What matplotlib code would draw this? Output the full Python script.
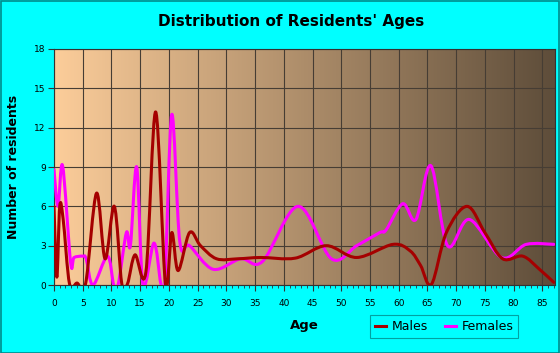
import matplotlib
matplotlib.use("Agg")
import matplotlib.pyplot as plt
import numpy as np
from matplotlib.path import Path
from matplotlib.patches import PathPatch, Rectangle
from matplotlib.lines import Line2D
from matplotlib.ticker import MultipleLocator

plt.rcParams['font.family'] = ['DejaVu Sans']

# values (age, number of residents)
male_ages = [0, 0.5, 1.0, 1.6, 2.7, 4.0, 5.5, 7.4, 8.9, 10.5, 11.8, 12.8, 14.1, 16.0,
             17.7, 19.4, 20.5, 21.6, 23.6, 25.5, 28.3, 32, 36, 42, 47.4, 52.7, 59,
             62, 63.8, 65.7, 68.3, 71.9, 75, 78.1, 81.6, 84.5, 87]
male_counts = [6.0, 0.6, 6.0, 5.0, 0.1, 0.15, 0.1, 7.0, 2.0, 6.0, 0.1, 0.1, 2.3, 1.0,
               13.2, 0.1, 4.0, 1.1, 4.0, 3.0, 2.0, 2.0, 2.1, 2.05, 3.0, 2.1, 3.1,
               2.6, 1.5, 0.05, 4.0, 6.0, 4.0, 2.0, 2.2, 1.2, 0.2]

female_ages = [0, 0.7, 1.5, 2.9, 3.5, 5.0, 5.6, 6.8, 9.3, 10.4, 11.2, 12.6, 13.3, 14.4,
               15.5, 17.4, 18.6, 19.3, 20.5, 21.9, 23.6, 27.7, 32.5, 36.3, 42.5, 48.3,
               52.7, 56.7, 57.8, 60.7, 63.0, 65.6, 68.5, 72.3, 77.9, 82.2, 87]
female_counts = [8.8, 6.0, 9.1, 1.7, 2.1, 2.2, 2.0, 0.0, 2.2, 0.0, 0.1, 4.0, 3.0, 9.0,
                 0.0, 3.2, 0.1, 0.1, 13.0, 3.3, 3.0, 1.2, 2.0, 1.8, 6.0, 2.0,
                 3.0, 4.0, 4.2, 6.2, 5.0, 9.1, 3.0, 5.0, 2.1, 3.1, 3.1]

x_ticks = list(range(0, 90, 5))
y_ticks = [0, 3, 6, 9, 12, 15, 18]


def smooth_path(xs, ys):
    """Catmull-Rom through the points, drawn as cubic Bezier segments."""
    pts = np.column_stack([xs, ys]).astype(float)
    verts = [pts[0]]
    codes = [Path.MOVETO]
    n = len(pts)
    for i in range(n - 1):
        p0 = pts[i - 1] if i > 0 else pts[i]
        p1 = pts[i]
        p2 = pts[i + 1]
        p3 = pts[i + 2] if i + 2 < n else pts[i + 1]
        c1 = p1 + (p2 - p0) / 6.0
        c2 = p2 - (p3 - p1) / 6.0
        verts += [c1, c2, p2]
        codes += [Path.CURVE4] * 3
    return Path(verts, codes)


fig = plt.figure(figsize=(5.6, 3.53), dpi=100, facecolor='#00FFFF')
fig.patches.append(Rectangle((0.001, 0.001), 0.997, 0.996, transform=fig.transFigure,
                             fill=False, edgecolor='#008B8B', linewidth=1.2))

ax = fig.add_axes([0.0964, 0.1926, 0.8946, 0.6686])
ax.set_xlim(0, 87.2)
ax.set_ylim(0, 18)

# background gradient
left = np.array([252, 205, 154]) / 255
right = np.array([94, 77, 58]) / 255
t = np.linspace(0, 1, 256)
grad = (left[None, :] * (1 - t[:, None]) + right[None, :] * t[:, None])[None, :, :]
ax.imshow(grad, extent=[0, 87.2, 0, 18], aspect='auto', zorder=0)

ax.set_xticks(x_ticks)
ax.set_yticks(y_ticks)
ax.xaxis.set_minor_locator(MultipleLocator(1))
ax.grid(True, which='major', color='#463d34', linewidth=0.8, zorder=1)

for xs, ys, col in [(female_ages, female_counts, '#FF00FF'),
                    (male_ages, male_counts, '#A50000')]:
    patch = PathPatch(smooth_path(xs, ys), facecolor='none', edgecolor=col,
                      linewidth=2.2, zorder=3, capstyle='round', joinstyle='round')
    patch.set_clip_path(ax.patch)
    ax.add_patch(patch)

for s in ax.spines.values():
    s.set_color('#333333')
    s.set_linewidth(0.8)
ax.tick_params(axis='both', which='major', labelsize=6.5, length=4, color='#333333',
               direction='out', pad=2)
ax.tick_params(axis='x', which='minor', length=2.5, color='#333333')
ax.tick_params(axis='x', pad=6)

fig.text(0.52, 0.94, "Distribution of Residents' Ages", fontsize=11, fontweight='bold',
         ha='center', va='center')
ax.set_xlabel('Age', fontsize=9.5, fontweight='bold', labelpad=8)
ax.set_ylabel('Number of residents', fontsize=9, fontweight='bold', labelpad=10)

handles = [Line2D([], [], color='#A50000', linewidth=2.2),
           Line2D([], [], color='#FF00FF', linewidth=2.2)]
leg = fig.legend(handles, ['Males', 'Females'], loc='center',
                 bbox_to_anchor=(0.793, 0.075), ncol=2, fontsize=9, frameon=True,
                 fancybox=False, edgecolor='#008B8B', facecolor='#00FFFF',
                 handlelength=0.9, handletextpad=0.4, columnspacing=1.4,
                 borderpad=0.4)
leg.get_frame().set_linewidth(0.8)

fig.savefig('out.png', dpi=100, facecolor=fig.get_facecolor())
